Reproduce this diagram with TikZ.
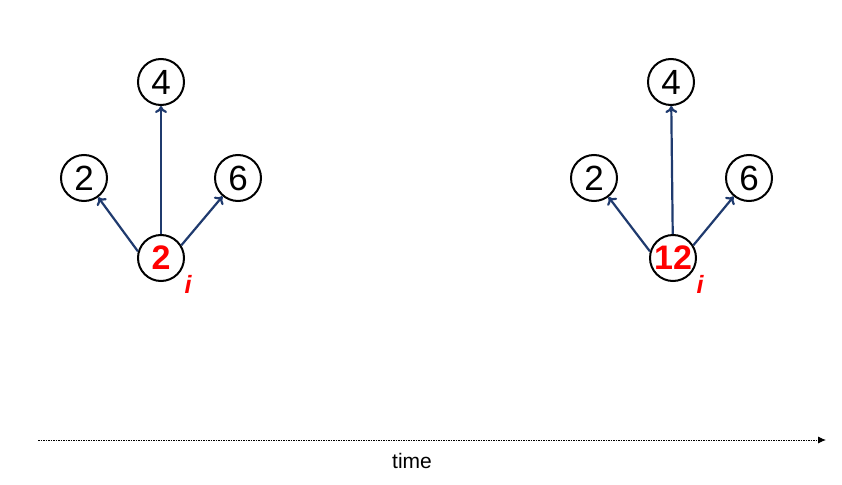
\documentclass[tikz,border=0pt]{standalone}
\usepackage{fontspec}
\setmainfont{Liberation Sans}
\usetikzlibrary{arrows.meta}
\definecolor{arrblue}{HTML}{1F3A6E}
\tikzset{
  num/.style={circle, draw=black, line width=2pt, minimum size=46pt, inner sep=0pt, font=\fontsize{35}{35}\selectfont},
  hot/.style={num, text=red, font=\fontsize{34}{34}\selectfont\bfseries},
  link/.style={draw=arrblue, line width=2.2pt, -{To[length=7pt,width=12pt]}},
  subi/.style={text=red, font=\fontsize{25}{25}\selectfont\bfseries\itshape, inner sep=0pt},
  timeline/.style={dash pattern=on 1.5pt off 1pt, line width=0.9pt, -{Latex[length=8pt,width=7pt]}}
}
\begin{document}
\begin{tikzpicture}[x=1pt,y=-1pt]
\useasboundingbox (0,0) rectangle (842,484);
% left group
\node[num] (la) at (161,82) {4};
\node[num] (lb) at (84,178) {2};
\node[num] (lc) at (238,178) {6};
\node[hot] (ld) at (161,258) {2};
\node[subi] (li) at (188,284) {i};
\draw[link] (ld) -- (la);
\draw[link] (ld.164) -- (lb);
\draw[link] (ld.32) -- (lc);
% right group
\node[num] (ra) at (671,82) {4};
\node[num] (rb) at (594,178) {2};
\node[num] (rc) at (749,178) {6};
\node[hot] (rd) at (673,258) {12};
\node[subi] (ri) at (700,284) {i};
\draw[link] (rd) -- (ra);
\draw[link] (rd.164) -- (rb);
\draw[link] (rd.32) -- (rc);
% time axis
\coordinate (t0) at (38,440);
\coordinate (t1) at (826,440);
\draw[timeline] (t0) -- (t1);
\node[font=\fontsize{21}{21}\selectfont] (tl) at (412,461) {time};
\end{tikzpicture}
\end{document}
